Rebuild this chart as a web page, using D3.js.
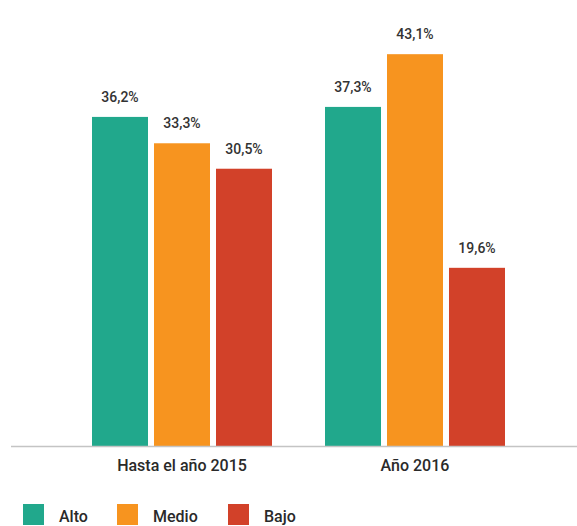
<!DOCTYPE html>
<html>
<head>
<meta charset="utf-8">
<script src="https://cdn.jsdelivr.net/npm/d3@7"></script>
<style>
  html, body { margin: 0; padding: 0; background: #fff; }
  svg { display: block; font-family: Roboto, "Noto Sans", sans-serif; }
</style>
</head>
<body>
<svg id="chart" width="577" height="526"></svg>
<script>
// Grouped bars: share of each level per period
const groups = ["Hasta el año 2015", "Año 2016"];
const series = ["Alto", "Medio", "Bajo"];
const alto  = [36.2, 37.3];
const medio = [33.3, 43.1];
const bajo  = [30.5, 19.6];
const colors = ["#21a88c", "#f7941f", "#d24129"];

const valuesBySeries = [alto, medio, bajo];
const rows = groups.map((g, gi) => ({
  group: g,
  values: series.map((s, si) => ({ key: s, value: valuesBySeries[si][gi] }))
}));

const svg = d3.select("#chart");
const baseline = 446;

const x0 = d3.scaleBand()
  .domain(groups)
  .range([65.5, 531.5])
  .paddingInner(53 / 233)
  .paddingOuter(53 / 466);

const x1 = d3.scaleBand()
  .domain(series)
  .range([0, x0.bandwidth()])
  .paddingInner(12 / 124);

const y = d3.scaleLinear().domain([0, 48.4]).range([baseline, 6]);
const color = d3.scaleOrdinal().domain(series).range(colors);

const fmt = v => d3.format(".1f")(v).replace(".", ",") + "%";

const g = svg.selectAll("g.group")
  .data(rows)
  .join("g")
  .attr("class", "group")
  .attr("transform", d => `translate(${x0(d.group)},0)`);

g.selectAll("rect")
  .data(d => d.values)
  .join("rect")
  .attr("x", d => x1(d.key))
  .attr("width", x1.bandwidth())
  .attr("y", d => y(d.value))
  .attr("height", d => baseline - y(d.value))
  .attr("fill", d => color(d.key));

g.selectAll("text.val")
  .data(d => d.values)
  .join("text")
  .attr("class", "val")
  .attr("x", d => x1(d.key) + x1.bandwidth() / 2)
  .attr("y", d => y(d.value) - 15)
  .attr("text-anchor", "middle")
  .attr("font-size", 14)
  .attr("font-weight", 500)
  .attr("fill", "#333")
  .text(d => fmt(d.value));

// Baseline axis
const xAxis = d3.axisBottom(x0).tickSize(0).tickPadding(14);
const axisG = svg.append("g")
  .attr("transform", `translate(0,${baseline})`)
  .call(xAxis);
axisG.select(".domain").remove();
axisG.selectAll("text")
  .attr("font-size", 16)
  .attr("font-weight", 500)
  .attr("fill", "#2a2a2a")
  .attr("font-family", "Roboto, sans-serif");
svg.append("line")
  .attr("x1", 11).attr("x2", 577)
  .attr("y1", baseline + 0.5).attr("y2", baseline + 0.5)
  .attr("stroke", "#c4c4c4")
  .attr("stroke-width", 1.5);

// Legend
const legendX = [23, 117, 228];
const legend = svg.selectAll("g.legend")
  .data(series)
  .join("g")
  .attr("class", "legend")
  .attr("transform", (d, i) => `translate(${legendX[i]},504)`);
legend.append("rect")
  .attr("width", 21).attr("height", 21)
  .attr("fill", d => color(d));
legend.append("text")
  .attr("x", 36).attr("y", 18)
  .attr("font-size", 16)
  .attr("font-weight", 500)
  .attr("fill", "#2a2a2a")
  .text(d => d);
</script>
</body>
</html>
